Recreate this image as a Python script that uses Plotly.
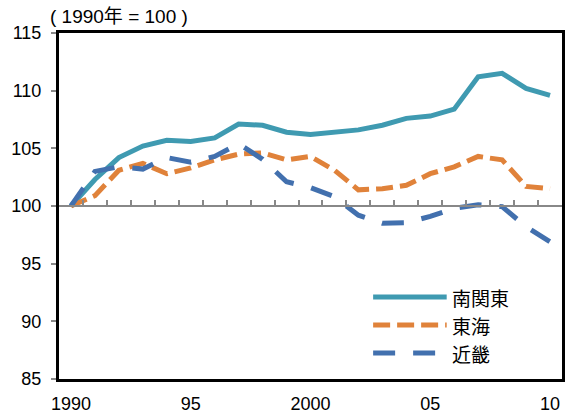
import plotly.graph_objects as go

years = list(range(1990, 2011))
minami_kanto = [100.0, 102.3, 104.2, 105.2, 105.7, 105.6, 105.9, 107.1, 107.0, 106.4, 106.2,
                106.4, 106.6, 107.0, 107.6, 107.8, 108.4, 111.2, 111.5, 110.2, 109.6]
tokai = [100.0, 100.9, 103.1, 103.7, 102.8, 103.3, 104.0, 104.5, 104.6, 104.0, 104.3,
         103.1, 101.4, 101.5, 101.8, 102.8, 103.4, 104.3, 104.0, 101.7, 101.5]
kinki = [100.0, 103.0, 103.4, 103.2, 104.2, 103.8, 104.3, 105.4, 104.05, 102.1, 101.6,
         100.8, 99.2, 98.5, 98.55, 99.1, 99.8, 100.1, 99.95, 98.2, 96.9]

series_names = ["南関東", "東海", "近畿"]
series_values = [minami_kanto, tokai, kinki]
colors = ["#3F9AB1", "#E0823A", "#4270AE"]
dashes = ["solid", "17px,7px", "22px,18px"]

x_tick_vals = [1990, 1995, 2000, 2005, 2010]
x_tick_text = ["1990", "95", "2000", "05", "10"]
y_tick_vals = [85, 90, 95, 100, 105, 110, 115]
title_text = "( 1990年 = 100 )"

fig = go.Figure()
for name, vals, c, d in zip(series_names, series_values, colors, dashes):
    fig.add_trace(go.Scatter(x=years, y=vals, mode="lines", name=name,
                             line=dict(color=c, width=5, dash=d), showlegend=False))

# helper trace for the baseline axis at 100
fig.add_trace(go.Scatter(x=[years[0]], y=[100], xaxis="x2", yaxis="y", mode="none",
                         showlegend=False, hoverinfo="skip"))

W, H = 569, 419
ml, mr, mt, mb = 59, 4, 33, 40
pw, ph = W - ml - mr, H - mt - mb

num_font = dict(family="Liberation Sans, Arial, sans-serif", size=18, color="#000000")

fig.update_layout(
    width=W, height=H,
    margin=dict(l=ml, r=mr, t=mt, b=mb, pad=0),
    paper_bgcolor="white", plot_bgcolor="white",
    font=num_font,
    xaxis=dict(range=[1989.5, 2010.5], tickvals=x_tick_vals, ticktext=x_tick_text,
               showgrid=False, zeroline=False, showline=True, linecolor="black",
               linewidth=3, mirror=True, ticks="", ticklabelstandoff=6,
               tickfont=num_font),
    xaxis2=dict(range=[1989.5, 2010.5], overlaying="x", anchor="free", position=0.5,
                tickvals=[y + 0.5 for y in years[:-1]], ticks="inside", ticklen=5,
                tickcolor="#888888", tickwidth=1.5, showline=True, linecolor="#888888",
                linewidth=2, showticklabels=False, showgrid=False, zeroline=False),
    yaxis=dict(range=[85, 115], tickvals=y_tick_vals, showgrid=False, zeroline=False,
               showline=True, linecolor="black", linewidth=3, mirror=True,
               ticks="outside", ticklen=5, tickcolor="#888888", tickwidth=1.5,
               ticklabelstandoff=6, tickfont=num_font),
)

fig.add_annotation(text=title_text, xref="paper", yref="paper",
                   x=(48 - ml) / pw, y=1 + (mt - 16) / ph, xanchor="left", yanchor="middle",
                   showarrow=False,
                   font=dict(family="Liberation Sans, Noto Sans CJK JP", size=19, color="black"))

# legend drawn as line samples + labels
leg_x0, leg_x1, leg_tx = 375, 449, 452
leg_ys = [297, 325, 353]
for name, c, d, yy in zip(series_names, colors, dashes, leg_ys):
    yp = (H - mb - yy) / ph
    fig.add_shape(type="line", xref="paper", yref="paper",
                  x0=(leg_x0 - ml) / pw, x1=(leg_x1 - ml) / pw, y0=yp, y1=yp,
                  line=dict(color=c, width=5, dash=d))
    fig.add_annotation(text=name, xref="paper", yref="paper", x=(leg_tx - ml) / pw, y=yp,
                       xanchor="left", yanchor="middle", showarrow=False,
                       font=dict(family="Noto Sans CJK JP", size=19, color="black"))

fig.write_html("out.html", config={"displayModeBar": False},
               post_script="document.body.style.margin='0';")
